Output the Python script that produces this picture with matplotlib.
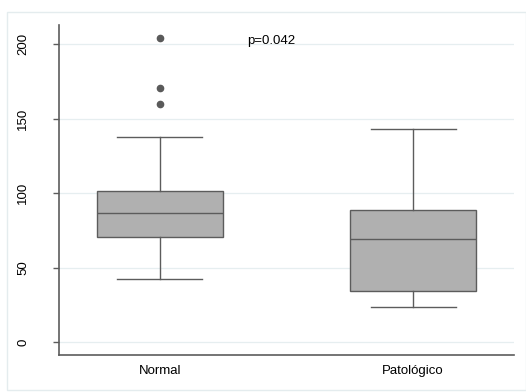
import matplotlib
matplotlib.use("Agg")
import matplotlib.pyplot as plt
from matplotlib.patches import Rectangle

plt.rcParams['font.family'] = ['Liberation Sans', 'DejaVu Sans']

categories = ["Normal", "Patológico"]
whisker_low = [42.5, 23.7]
q1 = [70.9, 34.6]
median = [86.6, 69.3]
q3 = [101.7, 88.8]
whisker_high = [137.8, 143.4]
outliers = [[159.7, 170.5, 204.0], []]
yticks = [0, 50, 100, 150, 200]
annotation = "p=0.042"

fig = plt.figure(figsize=(5.26, 3.92), dpi=100)
fig.patches.append(Rectangle((7/526, 1 - 390/392), (526 - 7)/526, (390 - 12)/392,
                             transform=fig.transFigure, fill=False,
                             edgecolor="#e4ecee", linewidth=1.0))
ax = fig.add_axes([59/526, 1 - 355/392, (514 - 59)/526, (355 - 25)/392])

stats = []
for i, c in enumerate(categories):
    stats.append(dict(label=c, whislo=whisker_low[i], q1=q1[i], med=median[i],
                      q3=q3[i], whishi=whisker_high[i], fliers=outliers[i]))

ax.bxp(stats, positions=[1, 2], widths=0.5, patch_artist=True,
       boxprops=dict(facecolor="#b0b0b0", edgecolor="#5c5c5c", linewidth=1.0),
       medianprops=dict(color="#5c5c5c", linewidth=1.0),
       whiskerprops=dict(color="#5c5c5c", linewidth=1.0),
       capprops=dict(color="#5c5c5c", linewidth=1.0),
       capwidths=0.336,
       flierprops=dict(marker="o", markerfacecolor="#5a5a5a", markeredgecolor="#5a5a5a",
                       markersize=4.5))

ax.set_xlim(0.601, 2.399)
ax.set_ylim(-8.6, 213)
ax.set_yticks(yticks)
ax.set_yticklabels([str(t) for t in yticks], rotation=90, va="center")
ax.yaxis.grid(True, color="#e6eef0", linewidth=0.9)
ax.set_axisbelow(True)
for s in ["top", "right"]:
    ax.spines[s].set_visible(False)
for s in ["left", "bottom"]:
    ax.spines[s].set_color("#5c5c5c")
    ax.spines[s].set_linewidth(1.2)
ax.tick_params(axis="y", length=4.5, width=1.0, color="#5c5c5c", pad=17, labelsize=9.5)
ax.tick_params(axis="x", length=0, pad=7, labelsize=9.5)

ax.text(1.344, 202, annotation, fontsize=9.5, va="center", ha="left")

fig.savefig("out.png", dpi=100)
